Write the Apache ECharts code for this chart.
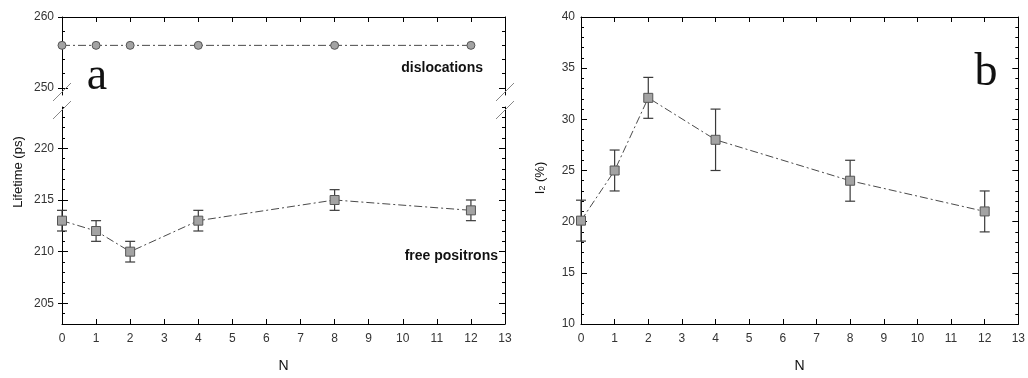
<!DOCTYPE html>
<html>
<head>
<meta charset="utf-8">
<script src="https://cdn.jsdelivr.net/npm/echarts@6/dist/echarts.min.js"></script>
<style>
  html, body { margin: 0; padding: 0; background: #fff; }
  #chart { width: 1028px; height: 378px; }
</style>
</head>
<body>
<div id="chart"></div>
<script>
// values
const N = [0, 1, 2, 4, 8, 12]
const dislocations = [256, 256, 256, 256, 256, 256]
const freePositrons = [213, 212, 210, 213, 215, 214]
const freePositronsErr = [1, 1, 1, 1, 1, 1]
const intensityI2 = [20.1, 25, 32.1, 28, 24, 21]
const intensityErr = [2, 2, 2, 3, 2, 2]

// tick labels
const topLabels = [250, 260]
const topMinor = [252, 254, 256, 258]
const lowLabels = [205, 210, 215, 220]
const i2Labels = [10, 15, 20, 25, 30, 35, 40]

const FONT = 'Liberation Sans, Arial, sans-serif'
const LINE = '#4a4a4a'
const MARK_FILL = '#a3a3a3'
const DASH = [8, 3, 2, 3]

const minorBetween = (min, max, majors) => {
  const res = []
  for (let v = min; v <= max; v++) if (!majors.includes(v)) res.push(v)
  return res
}

const yGroup = (gridIndex, min, max, labels, minor, cross) => {
  const base = { type: 'value', gridIndex, min, max, splitLine: { show: false } }
  const line = { show: true, lineStyle: { color: '#000', width: 1 } }
  const tick = (values, length, inside) => ({ show: true, inside: inside !== false, length, customValues: values, lineStyle: { color: '#000', width: 1 } })
  const axes = [
    { ...base, position: 'left', axisLine: line, axisTick: tick(labels, 6),
      axisLabel: { customValues: labels, margin: cross ? 8 : 6, fontSize: 12, color: '#333', fontFamily: FONT } },
    { ...base, position: 'left', axisLine: { show: false }, axisTick: tick(minor, 3), axisLabel: { show: false } },
    { ...base, position: 'right', axisLine: line, axisTick: tick(labels, 6), axisLabel: { show: false } },
    { ...base, position: 'right', axisLine: { show: false }, axisTick: tick(minor, 3), axisLabel: { show: false } }
  ]
  if (cross) {
    axes.push({ ...base, position: 'left', axisLine: { show: false }, axisTick: tick(labels, 4, false), axisLabel: { show: false } })
  }
  return axes
}

const xAxis = (gridIndex, position, withLabels) => ({
  type: 'value', gridIndex, position, min: 0, max: 13, interval: 1,
  splitLine: { show: false },
  axisLine: { show: true, onZero: false, lineStyle: { color: '#000', width: 1 } },
  axisTick: { show: true, inside: true, length: 5, lineStyle: { color: '#000' } },
  axisLabel: { show: withLabels, margin: 9, fontSize: 12, color: '#333', fontFamily: FONT },
  name: withLabels ? 'N' : '',
  nameLocation: 'middle',
  nameGap: 35,
  nameTextStyle: { fontSize: 14, color: '#111', fontFamily: FONT }
})

const errorBars = (params, api) => {
  const x = api.value(0)
  const lo = api.coord([x, api.value(1)])
  const hi = api.coord([x, api.value(2)])
  const w = 5
  const style = { stroke: '#3a3a3a', lineWidth: 1.2 }
  return {
    type: 'group',
    children: [
      { type: 'line', shape: { x1: lo[0], y1: lo[1], x2: hi[0], y2: hi[1] }, style },
      { type: 'line', shape: { x1: lo[0] - w, y1: lo[1], x2: lo[0] + w, y2: lo[1] }, style },
      { type: 'line', shape: { x1: hi[0] - w, y1: hi[1], x2: hi[0] + w, y2: hi[1] }, style }
    ]
  }
}

const pairs = (xs, ys) => xs.map((x, i) => [x, ys[i]])
const bars = (xs, ys, err) => xs.map((x, i) => [x, ys[i] - err[i], ys[i] + err[i]])

const lineSeries = (xAxisIndex, yAxisIndex, data, symbol, size) => ({
  type: 'line', xAxisIndex, yAxisIndex, data, symbol, symbolSize: size,
  clip: false, z: 5, animation: false,
  lineStyle: { color: LINE, width: 1, type: DASH },
  itemStyle: { color: MARK_FILL, borderColor: '#555', borderWidth: 1 }
})

const barSeries = (xAxisIndex, yAxisIndex, data) => ({
  type: 'custom', xAxisIndex, yAxisIndex, data, clip: false, z: 3,
  renderItem: errorBars, animation: false
})

const myChart = echarts.init(document.getElementById('chart'))
myChart.setOption({
  backgroundColor: '#fff',
  animation: false,
  grid: [
    { left: 62, right: 523, top: 17, height: 78 },
    { left: 62, right: 523, top: 107, height: 226 },
    { left: 581, right: 9, top: 17, height: 317 }
  ],
  xAxis: [
    xAxis(0, 'top', false),
    xAxis(1, 'bottom', true),
    xAxis(2, 'top', false),
    xAxis(2, 'bottom', true)
  ],
  yAxis: [
    ...yGroup(0, 249, 260, topLabels, topMinor, true),
    ...yGroup(1, 203, 224, lowLabels, minorBetween(203, 224, lowLabels), true),
    ...yGroup(2, 10, 40, i2Labels, minorBetween(10, 40, i2Labels), false)
  ],
  series: [
    lineSeries(0, 0, pairs(N, dislocations), 'circle', 8),
    barSeries(1, 5, bars(N, freePositrons, freePositronsErr)),
    lineSeries(1, 5, pairs(N, freePositrons), 'rect', 9),
    barSeries(3, 10, bars(N, intensityI2, intensityErr)),
    lineSeries(3, 10, pairs(N, intensityI2), 'rect', 9)
  ]
})

// axis-break slashes, labels and panel letters
const topEnd = myChart.convertToPixel({ xAxisIndex: 0, yAxisIndex: 0 }, [0, 249])
const lowEnd = myChart.convertToPixel({ xAxisIndex: 1, yAxisIndex: 5 }, [0, 224])
const rightX = myChart.convertToPixel({ xAxisIndex: 0, yAxisIndex: 0 }, [13, 249])[0]
const slash = (x, y) => ({
  type: 'line', shape: { x1: x - 9, y1: y + 9, x2: x + 9, y2: y - 9 },
  style: { stroke: '#888', lineWidth: 1 }, z: 10
})
const text = (x, y, str, font, align) => ({
  type: 'text', x, y, z: 10,
  style: { text: str, font, fill: '#111', align: align || 'center', verticalAlign: 'middle' }
})

myChart.setOption({
  graphic: [
    slash(topEnd[0], topEnd[1] - 3), slash(topEnd[0], lowEnd[1] + 3),
    slash(rightX, topEnd[1] - 3), slash(rightX, lowEnd[1] + 3),
    text(97, 77, 'a', '46px "Liberation Serif", "Times New Roman", serif'),
    text(986, 73, 'b', '46px "Liberation Serif", "Times New Roman", serif'),
    text(483, 68, 'dislocations', 'bold 14px ' + FONT, 'right'),
    text(498, 256, 'free positrons', 'bold 14px ' + FONT, 'right'),
    { type: 'text', x: 18, y: 172, rotation: Math.PI / 2, z: 10,
      style: { text: 'Lifetime (ps)', font: '13px ' + FONT, fill: '#111', align: 'center', verticalAlign: 'middle' } },
    { type: 'text', x: 540, y: 178, rotation: Math.PI / 2, z: 10,
      style: { text: 'I{s|2} (%)', font: '13px ' + FONT, fill: '#111', align: 'center', verticalAlign: 'middle',
        rich: { s: { fontSize: 9, fontFamily: FONT, fill: '#111', verticalAlign: 'bottom', padding: [6, 0, 0, 0] } } } }
  ]
})
</script>
</body>
</html>
